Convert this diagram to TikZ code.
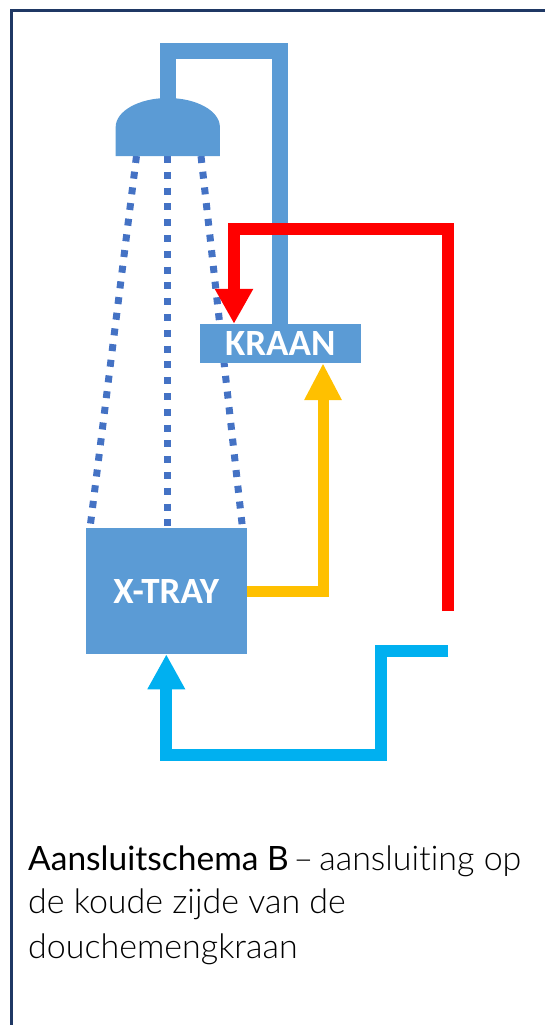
\documentclass[tikz,border=0pt]{standalone}
\usepackage{fontspec}
\usetikzlibrary{arrows.meta}
\IfFontExistsTF{Lato Light}{\newfontfamily\caplight{Lato Light}[Ligatures=NoCommon]}{\newfontfamily\caplight{Lato}[Ligatures=NoCommon]}
\newfontfamily\capreg{Lato}[Ligatures=NoCommon]
\newfontfamily\boxfont{Carlito}
\definecolor{headblue}{HTML}{5B9BD5}
\definecolor{dotblue}{HTML}{4472C4}
\definecolor{pipered}{HTML}{FF0000}
\definecolor{pipeyellow}{HTML}{FFC000}
\definecolor{pipecyan}{HTML}{00B0F0}
\definecolor{framenavy}{HTML}{1F3864}
\tikzset{
  boxnode/.style={fill=headblue, draw=none, inner sep=0pt, text=white,
    font=\boxfont\bfseries\fontsize{37}{42}\selectfont},
  pipe/.style={line width=11.7pt, line join=miter, line cap=butt},
  spray/.style={dotblue, line width=7pt, dash pattern=on 7pt off 8.8pt},
  captxt/.style={anchor=base west, inner sep=0pt, text=black,
    font=\fontsize{34}{40}\selectfont},
}
\begin{document}
\begin{tikzpicture}[x=1pt,y=-1pt]
\useasboundingbox (0,0) rectangle (545,1025);
% frame
\draw[framenavy, line width=3pt] (11.8,1026) -- (11.8,10.5) -- (546,10.5);

% spray lines
\coordinate (s1a) at (136.5,156);
\coordinate (s2a) at (167.5,156);
\coordinate (s3a) at (201,156);
\coordinate (s1b) at (90,528);
\coordinate (s2b) at (167.5,528);
\coordinate (s3b) at (242.5,528);
\draw[spray] (s1a) -- (s1b);
\draw[spray] (s2a) -- (s2b);
\draw[spray] (s3a) -- (s3b);

% boxes
\node[boxnode, minimum width=160.7pt, minimum height=39pt] (kraan) at (280.3,343.5) {KRAAN};
\node[boxnode, minimum width=160.7pt, minimum height=125.7pt] (xtray) at (166.3,591.2) {X-TRAY};

% shower head
\coordinate (headtop) at (167.8,99);
\fill[headblue] (115.7,156) -- (115.7,127)
  .. controls (115.7,111) and (139,98) .. (167.8,98)
  .. controls (196.6,98) and (219.9,111) .. (219.9,127)
  -- (219.9,156) -- cycle;

% supply pipe shower <- kraan
\coordinate (p1) at (167.8,51);
\coordinate (p2) at (280,51);
\draw[headblue, line width=15.7pt, line join=miter] (headtop) -- (p1) -- (p2) -- (p2 |- kraan.north);

% red hot-water pipe
\coordinate (r0) at (448,611);
\coordinate (r1) at (234,229.2);
\draw[pipe, pipered, -{Triangle[length=35pt,width=36pt]}] (r0) |- (r1) -- (r1 |- kraan.north);

% yellow pipe xtray -> kraan
\coordinate (y1) at (323,591.2);
\draw[pipe, pipeyellow, line width=11pt, -{Triangle[length=37pt,width=35pt]}] (xtray.east) -- (y1) -- (y1 |- kraan.south);

% cyan cold-water pipe -> xtray
\coordinate (b0) at (448.3,651);
\coordinate (b1) at (381,651);
\coordinate (b2) at (381,755.2);
\draw[pipe, pipecyan, -{Triangle[length=35pt,width=35.3pt]}] (b0) -- (b1) -- (b2) -| (xtray.south);

% caption
\node[captxt] (cap1) at (28,870) {{\capreg\fontsize{33.5}{40}\selectfont Aansluitschema B}\hspace{5pt}{\caplight –\hspace{6pt}aansluiting op}};
\node[captxt] (cap2) at (28,913) {\caplight de koude zijde van de};
\node[captxt] (cap3) at (28,958) {\caplight douchemengkraan};
\end{tikzpicture}
\end{document}
